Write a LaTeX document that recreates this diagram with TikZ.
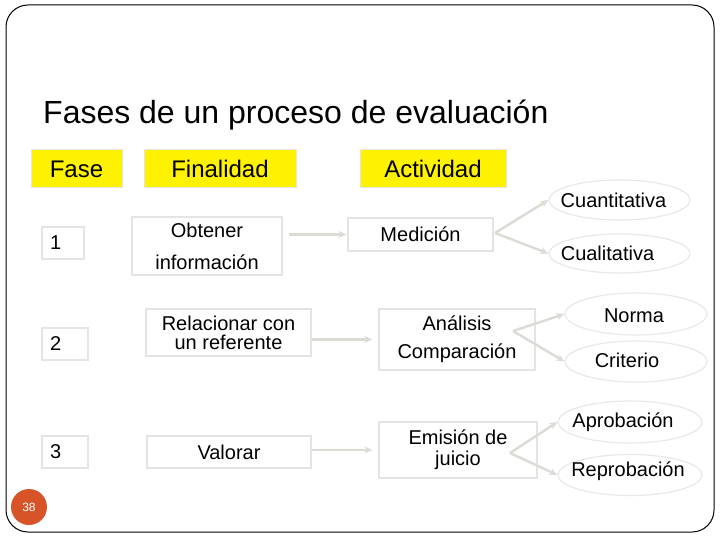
\documentclass[tikz,border=0pt]{standalone}
\usepackage{fontspec}
\setmainfont{Liberation Sans}
\usetikzlibrary{shapes.geometric, arrows.meta, positioning}
\definecolor{boxgray}{RGB}{228,228,226}
\definecolor{ovalgray}{RGB}{232,232,232}
\definecolor{arrowgray}{RGB}{220,220,215}
\definecolor{pgorange}{RGB}{214,84,40}
\tikzstyle{head} = [rectangle, minimum height=38pt, text centered, draw=boxgray, line width=1pt, fill=yellow, font=\fontsize{24}{28}\selectfont]
\tikzstyle{cell} = [rectangle, inner sep=4pt, align=center, draw=boxgray, line width=1.3pt, fill=white]
\tikzstyle{num} = [rectangle, minimum height=32pt, align=left, inner xsep=8pt, draw=boxgray, line width=1.3pt, fill=white]
\tikzstyle{oval} = [ellipse, minimum width=141pt, minimum height=40pt, inner sep=0pt, draw=ovalgray, line width=1.2pt, fill=white]
\tikzstyle{arrow} = [line width=2.5pt, draw=arrowgray, -{Stealth[length=8pt,width=7pt]}]

\begin{document}
\begin{tikzpicture}[x=1pt, y=-1pt, font=\fontsize{20}{24}\selectfont]
\useasboundingbox[fill=white] (0,0) rectangle (720,540);
\draw [rounded corners=22pt, line width=1pt] (6,5) rectangle (714,532);

\node (title) [anchor=base west, inner sep=0pt, font=\fontsize{32}{38}\selectfont] at (43,124) {Fases de un proceso de evaluación};

\node (fase) [head, minimum width=91pt] at (76.5,169) {Fase};
\node (finalidad) [head, minimum width=152pt] at (220,169) {Finalidad};
\node (actividad) [head, minimum width=146pt] at (433,169) {Actividad};

\node (n1) [num, text width=26pt] at (63,243) {1};
\node (n2) [num, text width=30pt] at (65,344) {2};
\node (n3) [num, text width=30pt] at (65,452) {3};

\node (obt) [cell, minimum width=150pt, minimum height=58pt, font=\fontsize{20}{32}\selectfont] at (207,246) {Obtener\\información};
\node (rel) [cell, minimum width=165pt, minimum height=47pt, font=\fontsize{20}{19}\selectfont] at (228.5,332.5) {Relacionar con\\un referente};
\node (val) [cell, minimum width=164pt, minimum height=32pt] at (229,452) {Valorar};

\node (med) [cell, minimum width=145pt, minimum height=33pt] at (420.5,234.5) {Medición};
\node (ana) [cell, minimum width=156pt, minimum height=61pt, font=\fontsize{20}{28}\selectfont] at (457,339.5) {Análisis\\Comparación};
\node (emi) [cell, minimum width=158pt, minimum height=56pt, font=\fontsize{20}{21}\selectfont] at (458,450) {Emisión de\\juicio};

\node (cuant) [oval, label={[xshift=-6pt]center:Cuantitativa}] at (619.5,200) {};
\node (cual) [oval, minimum height=39pt, label={[xshift=-12pt]center:Cualitativa}] at (619.5,253.5) {};
\node (norma) [oval, minimum width=142pt, minimum height=42pt, label={[xshift=-2pt, yshift=-2pt]center:Norma}] at (636,314) {};
\node (crit) [oval, minimum width=142pt, minimum height=41pt, label={[xshift=-9pt, yshift=1pt]center:Criterio}] at (636,361.5) {};
\node (aprob) [oval, minimum width=144pt, minimum height=42pt, label={[xshift=-7pt]center:Aprobación}] at (630,422) {};
\node (reprob) [oval, minimum width=144pt, minimum height=41pt, label={[xshift=-2pt, yshift=4pt]center:Reprobación}] at (630,475) {};

\coordinate (forkmed) at (495,233);
\coordinate (forkana) at (513,331);
\coordinate (forkemi) at (510,453);

\draw [arrow, shorten <=6pt, shorten >=1pt] (obt.east |- med.west) -- (med.west);
\draw [arrow, shorten >=6pt] (rel.east |- ana.west) -- (ana.west);
\draw [arrow, shorten >=6pt] (val.east |- emi.west) -- (emi.west);

\draw [arrow] (forkmed) -- (cuant.west);
\draw [arrow] (forkmed) -- (cual.west);
\draw [arrow] (forkana) -- (norma.west);
\draw [arrow] (forkana) -- (crit.west);
\draw [arrow] (forkemi) -- (aprob.west);
\draw [arrow] (forkemi) -- (reprob.west);

\node (pg) [circle, fill=pgorange, minimum size=36pt, inner sep=0pt, text=white, font=\fontsize{12}{14}\selectfont] at (29,507) {38};
\end{tikzpicture}
\end{document}
